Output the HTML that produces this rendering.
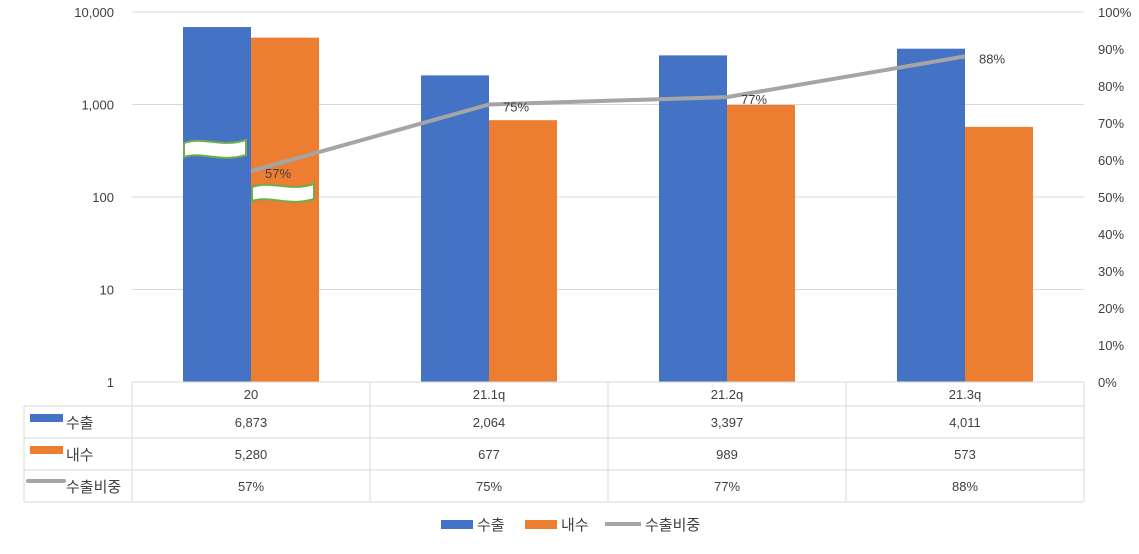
<!DOCTYPE html>
<html><head><meta charset="utf-8"><style>
body{margin:0;background:#fff;font-family:"Liberation Sans","Noto Sans CJK KR",sans-serif;}
svg text{font-family:"Liberation Sans","Noto Sans CJK KR",sans-serif;fill:#404040;}
</style></head><body>
<svg id="c" width="1139" height="549"></svg>
<script>
const categories=["20","21.1q","21.2q","21.3q"];
const exportVals=[6873,2064,3397,4011];
const domesticVals=[5280,677,989,573];
const shareVals=[57,75,77,88];
const leftTicks=[1,10,100,1000,10000];
const rightTicks=[0,10,20,30,40,50,60,70,80,90,100];
const NS="http://www.w3.org/2000/svg";
const svg=document.getElementById('c');
const X0=132,X1=1084,Y0=382,Y1=12;
const cw=(X1-X0)/categories.length;
function yLog(v){return Y0-(Math.log10(v)/4)*(Y0-Y1);}
function yPct(p){return Y0-p/100*(Y0-Y1);}
function cx(i){return X0+cw*(i+0.5);}
function el(t,a,txt){const e=document.createElementNS(NS,t);for(const k in a)e.setAttribute(k,a[k]);if(txt!==undefined)e.textContent=txt;svg.appendChild(e);return e;}
function fmt(v){return v.toLocaleString('en-US');}
leftTicks.forEach(v=>{const y=yLog(v);
 if(v>1){const g=el('line',{x1:X0,x2:X1,y1:y,y2:y,stroke:'#d9d9d9'});}
 const t=el('text',{x:114,y:y+5,'text-anchor':'end','font-size':13},fmt(v));
 });
rightTicks.forEach(p=>{const t=el('text',{x:1098,y:yPct(p)+5,'font-size':13},p+'%');
 });
const bw=68;
categories.forEach((c,i)=>{
 const b1=el('rect',{x:cx(i)-bw,y:yLog(exportVals[i]),width:bw,height:Y0-yLog(exportVals[i]),fill:'#4472c4'});
 
 const b2=el('rect',{x:cx(i),y:yLog(domesticVals[i]),width:bw,height:Y0-yLog(domesticVals[i]),fill:'#ed7d31'});
 
});
// axis break symbols
function brk(x,y,w){const p=el('path',{d:`M${x},${y+3} C${x+w*0.3},${y-4} ${x+w*0.6},${y+8} ${x+w},${y} L${x+w},${y+15} C${x+w*0.6},${y+23} ${x+w*0.3},${y+11} ${x},${y+17} Z`,fill:'#fff',stroke:'#70ad47','stroke-width':2});
 }
brk(184,140,62);brk(252,184,62);
const pts=shareVals.map((v,i)=>cx(i)+','+yPct(v)).join(' ');
const ln=el('polyline',{points:pts,fill:'none',stroke:'#a5a5a5','stroke-width':4});

shareVals.forEach((v,i)=>{const t=el('text',{x:cx(i)+14,y:yPct(v)+7,'font-size':13},v+'%');
 });
// table
const rows=[406,438,470,502];
function L(x1,y1,x2,y2){el('line',{x1,y1,x2,y2,stroke:'#d9d9d9'});}
L(X0,382,X1,382);L(24,406,X1,406);L(24,438,X1,438);L(24,470,X1,470);L(24,502,X1,502);
L(24,406,24,502);
for(let i=0;i<=categories.length;i++)L(X0+cw*i,382,X0+cw*i,502);
categories.forEach((c,i)=>{
 const t=el('text',{x:cx(i),y:399,'text-anchor':'middle','font-size':13},c);
 const a=el('text',{x:cx(i),y:427,'text-anchor':'middle','font-size':13},fmt(exportVals[i]));
 const b=el('text',{x:cx(i),y:459,'text-anchor':'middle','font-size':13},fmt(domesticVals[i]));
 const s=el('text',{x:cx(i),y:491,'text-anchor':'middle','font-size':13},shareVals[i]+'%');
});
el('rect',{x:30,y:414,width:33,height:8,fill:'#4472c4'});
el('text',{x:66,y:428,'font-size':15},'수출');
el('rect',{x:30,y:446,width:33,height:8,fill:'#ed7d31'});
el('text',{x:66,y:460,'font-size':15},'내수');
el('line',{x1:28,y1:481,x2:64,y2:481,stroke:'#a5a5a5','stroke-width':4,'stroke-linecap':'round'});
el('text',{x:66,y:492,'font-size':15},'수출비중');
// legend
const lg=[['rect','#4472c4','수출',441],['rect','#ed7d31','내수',525],['line','#a5a5a5','수출비중',605]];
lg.forEach(([k,c,n,x])=>{
 if(k==='rect')el('rect',{x:x,y:520,width:32,height:9,fill:c});
 else el('line',{x1:x,y1:524,x2:x+36,y2:524,stroke:c,'stroke-width':4});
 const t=el('text',{x:x+(k==='rect'?36:40),y:530,'font-size':15},n);
 
});
</script>
</body></html>
